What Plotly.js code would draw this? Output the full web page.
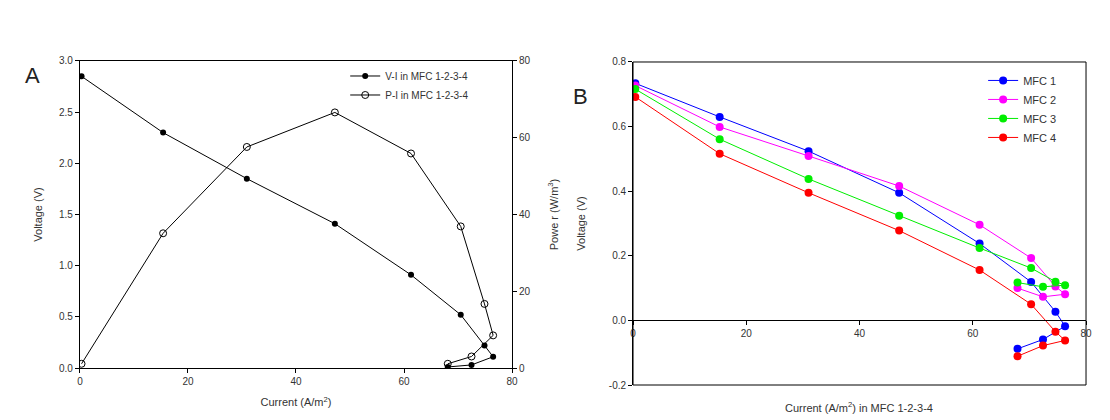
<!DOCTYPE html>
<html>
<head>
<meta charset="utf-8">
<script src="https://cdn.plot.ly/plotly-3.0.1.min.js"></script>
<style>html,body{margin:0;padding:0;background:#fff;}#chart{width:1110px;height:420px;}</style>
</head>
<body>
<div id="chart"></div>
<script>
// Panel A data
const currentA = [0.3, 15.4, 30.9, 47.2, 61.3, 70.5, 74.9, 76.5, 72.5, 68.1];
const voltageA = [2.85, 2.30, 1.85, 1.41, 0.91, 0.52, 0.22, 0.11, 0.03, 0.01];
const powerA   = [1.1, 35.1, 57.6, 66.6, 55.9, 36.9, 16.7, 8.5, 3.0, 1.1];

// Panel B data
const currentB = [0.4, 15.3, 31.0, 47.0, 61.2, 70.3, 74.6, 76.3, 72.4, 67.9];
const mfc1 = [0.734, 0.630, 0.524, 0.395, 0.238, 0.119, 0.027, -0.018, -0.059, -0.088];
const mfc2 = [0.727, 0.599, 0.509, 0.416, 0.296, 0.193, 0.105, 0.081, 0.073, 0.100];
const mfc3 = [0.716, 0.561, 0.438, 0.324, 0.224, 0.162, 0.120, 0.109, 0.104, 0.117];
const mfc4 = [0.692, 0.516, 0.395, 0.278, 0.156, 0.050, -0.035, -0.062, -0.078, -0.111];
const seriesNamesB = ['MFC 1', 'MFC 2', 'MFC 3', 'MFC 4'];
const seriesColorsB = ['#0000ff', '#ff00ff', '#00ee00', '#ff0000'];

// Tick labels
const xTicks = [0, 20, 40, 60, 80];
const yTicksA = [0, 0.5, 1, 1.5, 2, 2.5, 3];
const powerTicks = [0, 20, 40, 60, 80];
const yTicksB = [-0.2, 0, 0.2, 0.4, 0.6, 0.8];
const yTickTextB = ['-0.2', '0.0', '0.2', '0.4', '0.6', '0.8'];

const FONT = 'Liberation Sans, Arial, sans-serif';
const TXT = '#333';

const traces = [
  {x: currentA, y: voltageA, name: 'V-I in MFC 1-2-3-4', xaxis: 'x', yaxis: 'y', legend: 'legend',
   mode: 'lines+markers', line: {color: '#000', width: 1},
   marker: {symbol: 'circle', size: 6, color: '#000'}},
  {x: currentA, y: powerA, name: 'P-I in MFC 1-2-3-4', xaxis: 'x', yaxis: 'y3', legend: 'legend',
   mode: 'lines+markers', line: {color: '#000', width: 1},
   marker: {symbol: 'circle-open', size: 7, color: '#000', line: {width: 1}}}
];
[mfc1, mfc2, mfc3, mfc4].forEach((v, i) => {
  traces.push({x: currentB, y: v, name: seriesNamesB[i], xaxis: 'x2', yaxis: 'y2', legend: 'legend2',
    mode: 'lines+markers', line: {color: seriesColorsB[i], width: 1},
    marker: {symbol: 'circle', size: 8, color: seriesColorsB[i]}});
});

const tickfont = {family: FONT, size: 10, color: TXT};
const titlefont = {family: FONT, size: 11, color: TXT};

const layout = {
  width: 1110, height: 420,
  margin: {l: 0, r: 0, t: 0, b: 0},
  paper_bgcolor: '#fff', plot_bgcolor: '#fff',
  showlegend: true,
  font: {family: FONT, color: TXT},
  xaxis: {domain: [0.072, 0.4613], range: [0, 80], tickvals: xTicks,
    showgrid: false, zeroline: false, showline: true, linecolor: '#000', linewidth: 1, mirror: true,
    ticks: 'outside', ticklen: 4, tickcolor: '#000', tickfont: tickfont, anchor: 'y',
    title: {text: 'Current (A/m<sup>2</sup>)', font: titlefont, standoff: 12}},
  yaxis: {domain: [0.1238, 0.8548], range: [0, 3], tickvals: yTicksA, tickformat: '.1f',
    showgrid: false, zeroline: false, showline: true, linecolor: '#000', linewidth: 1,
    ticks: 'outside', ticklen: 4, tickcolor: '#000', tickfont: tickfont, anchor: 'x',
    title: {text: 'Voltage (V)', font: titlefont, standoff: 14}},
  yaxis3: {overlaying: 'y', side: 'right', anchor: 'x', range: [0, 80], tickvals: powerTicks,
    showgrid: false, zeroline: false, showline: true, linecolor: '#000', linewidth: 1,
    ticks: 'outside', ticklen: 4, tickcolor: '#000', tickfont: tickfont,
    title: {text: 'Powe r (W/m<sup>3</sup>)', font: titlefont, standoff: 20}},
  xaxis2: {domain: [0.5703, 0.9784], range: [0, 80], tickvals: xTicks,
    anchor: 'free', position: 0.2371,
    showgrid: false, zeroline: false, showline: true, linecolor: '#000', linewidth: 1,
    ticks: 'outside', ticklen: 4, tickcolor: '#000', tickfont: tickfont},
  yaxis2: {domain: [0.0833, 0.8524], range: [-0.2, 0.8], tickvals: yTicksB, ticktext: yTickTextB,
    anchor: 'x2', showgrid: false, zeroline: false, showline: true, linecolor: '#000', linewidth: 1,
    ticks: 'outside', ticklen: 4, tickcolor: '#000', tickfont: tickfont,
    title: {text: 'Voltage (V)', font: titlefont, standoff: 20}},
  legend: {x: 0.311, y: 0.8536, xanchor: 'left', yanchor: 'top', bgcolor: 'rgba(0,0,0,0)',
    font: {family: FONT, size: 10, color: TXT}, tracegroupgap: 0, itemwidth: 30},
  legend2: {x: 0.8857, y: 0.843, xanchor: 'left', yanchor: 'top', bgcolor: 'rgba(0,0,0,0)',
    font: {family: FONT, size: 11, color: TXT}, tracegroupgap: 0, itemwidth: 30},
  shapes: [
    {type: 'rect', xref: 'x2 domain', yref: 'y2 domain', x0: 0, x1: 1, y0: 0, y1: 1,
     line: {color: '#000', width: 1}, fillcolor: 'rgba(0,0,0,0)'}
  ],
  annotations: [
    {text: 'A', xref: 'paper', yref: 'paper', x: 0.021, y: 0.82, xanchor: 'left', yanchor: 'middle',
     showarrow: false, font: {family: FONT, size: 22, color: '#222'}},
    {text: 'B', xref: 'paper', yref: 'paper', x: 0.514, y: 0.77, xanchor: 'left', yanchor: 'middle',
     showarrow: false, font: {family: FONT, size: 22, color: '#222'}},
    {text: 'Current (A/m<sup>2</sup>) in MFC 1-2-3-4', xref: 'paper', yref: 'paper', x: 0.7743, y: 0.03,
     xanchor: 'center', yanchor: 'middle', showarrow: false, font: titlefont}
  ]
};

Plotly.newPlot('chart', traces, layout, {staticPlot: true, displayModeBar: false});
</script>
</body>
</html>
